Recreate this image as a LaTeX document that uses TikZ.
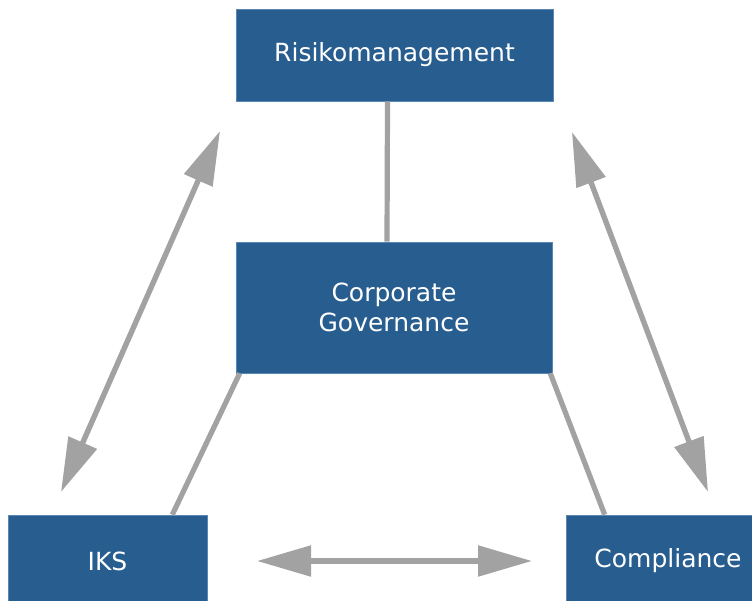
\documentclass[tikz,border=0pt]{standalone}
\usepackage{fontspec}
\setmainfont{DejaVu Sans}
\usetikzlibrary{arrows.meta}
\definecolor{unitblue}{HTML}{285D8F}
\definecolor{unitedge}{HTML}{5A86B4}
\definecolor{arrowgray}{HTML}{A2A2A2}
\tikzset{
  unit/.style={fill=unitblue, draw=unitedge, line width=0.6pt, text=white,
    inner sep=0pt, align=center, font=\fontsize{25}{30}\selectfont},
  tie/.style={draw=arrowgray, line width=5.2pt},
  both/.style={draw=arrowgray, fill=arrowgray, line width=5.4pt,
    {Triangle[length=54pt, width=30pt]}-{Triangle[length=54pt, width=30pt]}},
}

\begin{document}
\begin{tikzpicture}[x=1pt, y=-1pt]
\useasboundingbox (0,0) rectangle (752,601);
\clip (0,0) rectangle (752,601);

%% ---- the four units ----------------------------------------------------
\node[unit, minimum width=317pt, minimum height=92pt] (risk) at (394.5,55)
  {Risikomanagement};
\node[unit, minimum width=316pt, minimum height=131pt] (gov) at (394,307.5)
  {Corporate\\Governance};
\node[unit, minimum width=199pt, minimum height=92pt] (iks) at (107.5,561)
  {IKS};
\node[unit, minimum width=204pt, minimum height=92pt] (comp) at (668,561)
  {Compliance};

%% ---- ties to the governance box ----------------------------------------
\draw[tie] ([xshift=-7pt]risk.south) -- ([xshift=-7pt]gov.north);
\draw[tie] ([xshift=4pt]gov.south west) -- ([xshift=-35pt]iks.north east);
\draw[tie] ([xshift=-2pt]gov.south east) -- ([xshift=39pt]comp.north west);

%% ---- mutual links ------------------------------------------------------
\coordinate (riskL) at (220,131);
\coordinate (iksT)  at (61,492);
\coordinate (riskR) at (572,132);
\coordinate (compT) at (708,492);
\coordinate (iksR)  at (257,561);
\coordinate (compL) at (532,561);
\draw[both] (riskL) -- (iksT);
\draw[both] (riskR) -- (compT);
\draw[both] (iksR) -- (compL);

\end{tikzpicture}
\end{document}
